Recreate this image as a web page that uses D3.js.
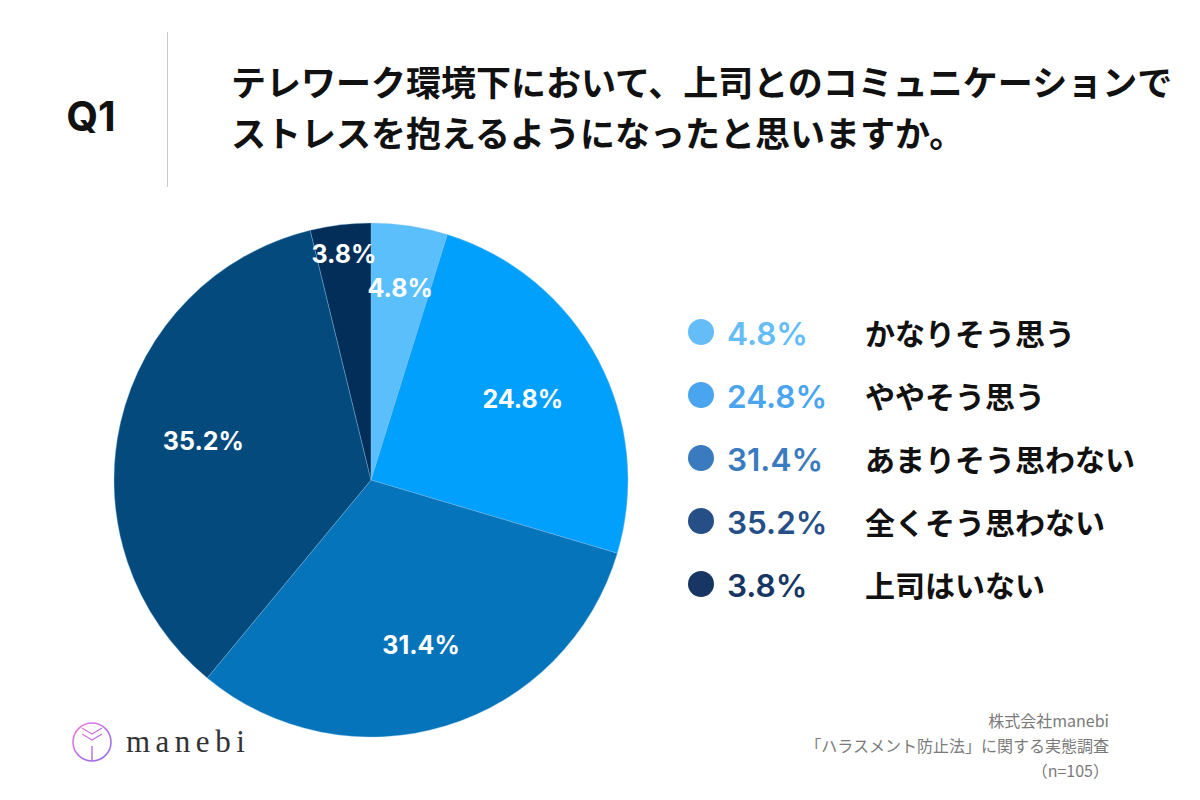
<!DOCTYPE html>
<html><head><meta charset="utf-8">
<script src="https://cdn.jsdelivr.net/npm/d3@7"></script>
<style>html,body{margin:0;padding:0;background:#fff;}svg{display:block;}</style>
</head><body>
<svg id="chart" width="1200" height="800"></svg>
<script>
// ---- data ----
const categories = ["かなりそう思う", "ややそう思う", "あまりそう思わない", "全くそう思わない", "上司はいない"];
const values = [4.8, 24.8, 31.4, 35.2, 3.8];
const valueLabels = ["4.8%", "24.8%", "31.4%", "35.2%", "3.8%"];
const titleLines = ["テレワーク環境下において、上司とのコミュニケーションで", "ストレスを抱えるようになったと思いますか。"];
const footerLines = ["株式会社manebi", "「ハラスメント防止法」に関する実態調査", "（n=105）"];

// ---- style / layout ----
const sliceColors = ["#5bbffc", "#02a0fd", "#0674bb", "#044a7d", "#032e59"];
const legendColors = ["#64bdf7", "#4aa5f0", "#3a7bbf", "#254f86", "#183663"];
const labelRadius = [194, 172, 172, 172, 228];
const cx = 371, cy = 480, R = 257;
const jp = "'Noto Sans CJK JP', 'Noto Sans', sans-serif";
const num = "Inter, 'Noto Sans', sans-serif";

const svg = d3.select("#chart");

// Header
svg.append("text").attr("x", 91).attr("y", 116).attr("text-anchor", "middle")
  .attr("dominant-baseline", "central")
  .style("font-family", num).style("font-weight", 700).style("font-size", "41px")
  .attr("fill", "#111").text("Q1");
svg.append("line").attr("x1", 167.5).attr("x2", 167.5).attr("y1", 32).attr("y2", 187)
  .attr("stroke", "#c8c8c8").attr("stroke-width", 1);
svg.append("g").selectAll("text").data(titleLines).join("text")
  .attr("x", 231).attr("y", (d, i) => 80 + i * 51)
  .attr("dominant-baseline", "central")
  .style("font-family", jp).style("font-weight", 700).style("font-size", "35px")
  .attr("fill", "#111").text(d => d);

// Pie
const pie = d3.pie().sort(null).value(d => d)(values);
const arc = d3.arc().innerRadius(0).outerRadius(R);
const g = svg.append("g").attr("transform", `translate(${cx},${cy})`);
g.selectAll("path").data(pie).join("path")
  .attr("d", arc).attr("fill", (d, i) => sliceColors[i])
  .attr("stroke", "#8fc3ea").attr("stroke-width", 0.6).attr("stroke-opacity", 0.6);
g.selectAll("text").data(pie).join("text")
  .attr("transform", (d, i) => {
    const a = (d.startAngle + d.endAngle) / 2;
    return `translate(${Math.sin(a) * labelRadius[i]},${-Math.cos(a) * labelRadius[i]})`;
  })
  .attr("text-anchor", "middle").attr("dominant-baseline", "central")
  .style("font-family", num).style("font-weight", 700).style("font-size", "25px")
  .attr("fill", "#fff").text((d, i) => valueLabels[i]);

// Legend
const legendY = d3.scalePoint().domain(categories).range([332, 584]);
const lg = svg.append("g");
const rows = lg.selectAll("g").data(categories).join("g")
  .attr("transform", d => `translate(0,${legendY(d)})`);
rows.append("circle").attr("cx", 701).attr("cy", 0).attr("r", 13)
  .attr("fill", (d, i) => legendColors[i]);
rows.append("text").attr("x", 727).attr("y", 1).attr("dominant-baseline", "central")
  .style("font-family", num).style("font-weight", 600).style("font-size", "31.5px")
  .attr("fill", (d, i) => legendColors[i]).text((d, i) => valueLabels[i]);
rows.append("text").attr("x", 865).attr("y", 0).attr("dominant-baseline", "central")
  .style("font-family", jp).style("font-weight", 700).style("font-size", "30px")
  .attr("fill", "#111").text(d => d);

// Footer
svg.append("g").selectAll("text").data(footerLines).join("text")
  .attr("x", 1109).attr("y", (d, i) => 720 + i * 25).attr("text-anchor", "end")
  .attr("dominant-baseline", "central")
  .style("font-family", jp).style("font-weight", 400).style("font-size", "16px")
  .attr("fill", "#7a7a7a").text(d => d);

// Logo
const defs = svg.append("defs");
const grad = defs.append("linearGradient").attr("id", "lg1")
  .attr("x1", "0%").attr("y1", "0%").attr("x2", "100%").attr("y2", "100%");
grad.append("stop").attr("offset", "0%").attr("stop-color", "#f07bd8");
grad.append("stop").attr("offset", "100%").attr("stop-color", "#8b6cf2");
const logo = svg.append("g").attr("transform", "translate(92,742)");
logo.append("circle").attr("r", 19).attr("fill", "none").attr("stroke", "url(#lg1)").attr("stroke-width", 1.6);
[-8, -2, 4, 9].forEach(y => {
  const hw = Math.sqrt(19 * 19 - y * y);
  logo.append("line").attr("x1", -hw).attr("x2", hw).attr("y1", y).attr("y2", y)
    .attr("stroke", "url(#lg1)").attr("stroke-width", 1.4);
});
logo.append("path").attr("d", "M-10,-14 L0,-8 L10,-14 M-10,-8 L0,-2 L10,-8 M0,4 L0,19")
  .attr("fill", "none").attr("stroke", "url(#lg1)").attr("stroke-width", 1.4);
svg.append("text").attr("x", 126).attr("y", 752)
  .style("font-family", "'Liberation Serif', 'DejaVu Serif', serif").style("font-size", "31px")
  .style("letter-spacing", "5.5px").attr("fill", "#333").text("manebi");
</script>
</body></html>
